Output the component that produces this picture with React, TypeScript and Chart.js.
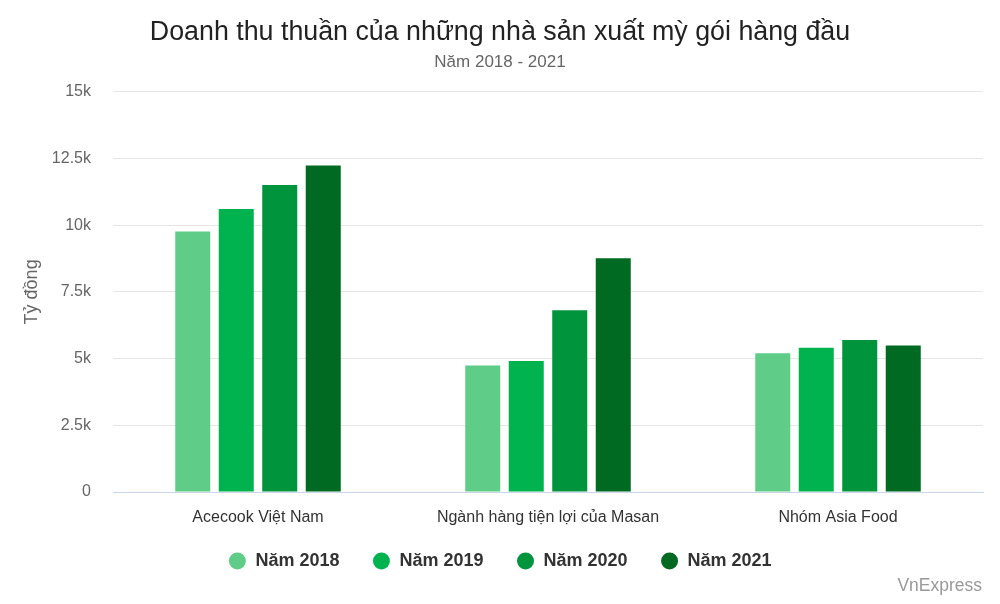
import React, { useEffect, useRef } from "react";
import { Chart, registerables } from "chart.js";

Chart.register(...registerables);

const categories = ["Acecook Việt Nam", "Ngành hàng tiện lợi của Masan", "Nhóm Asia Food"];
const seriesNames = ["Năm 2018", "Năm 2019", "Năm 2020", "Năm 2021"];
const values2018 = [9760, 4740, 5200];
const values2019 = [10610, 4910, 5410];
const values2020 = [11510, 6810, 5700];
const values2021 = [12240, 8760, 5490];
const seriesColors = ["#5fcd87", "#00b34f", "#00943c", "#006a22"];
const yTicks = [0, 2500, 5000, 7500, 10000, 12500, 15000];

const FONT = '"Liberation Sans", Arial, sans-serif';

const creditPlugin = {
  id: "credit",
  afterLayout(chart: any) {
    // let the category labels extend below the compact x-axis box
    const x = chart.scales.x;
    if (x) x.bottom = x.top + 40;
  },
  afterDraw(chart: any) {
    const ctx = chart.ctx;
    ctx.save();
    ctx.font = `17.5px ${FONT}`;
    ctx.fillStyle = "#999999";
    ctx.textAlign = "right";
    ctx.textBaseline = "middle";
    ctx.fillText("VnExpress", 982, 586);
    ctx.restore();
  },
};

export default function App() {
  const canvasRef = useRef<HTMLCanvasElement | null>(null);

  useEffect(() => {
    const seriesValues = [values2018, values2019, values2020, values2021];
    const chart = new Chart(canvasRef.current as HTMLCanvasElement, {
      type: "bar",
      data: {
        labels: categories,
        datasets: seriesNames.map((name, i) => ({
          label: name,
          data: seriesValues[i],
          backgroundColor: seriesColors[i],
          borderWidth: 0,
          categoryPercentage: 0.6,
          barPercentage: 0.805,
        })),
      },
      options: {
        animation: false,
        responsive: true,
        maintainAspectRatio: false,
        layout: { padding: { top: 15, left: 17, right: 17, bottom: 28 } },
        plugins: {
          title: {
            display: true,
            text: "Doanh thu thuần của những nhà sản xuất mỳ gói hàng đầu",
            color: "#222222",
            font: { family: FONT, size: 26.8, weight: "normal" },
            padding: { top: 2, bottom: 1 },
          },
          subtitle: {
            display: true,
            text: "Năm 2018 - 2021",
            color: "#666666",
            font: { family: FONT, size: 17, weight: "normal" },
            padding: { top: 2.4, bottom: 18.8 },
          },
          legend: {
            position: "bottom",
            maxHeight: 57,
            labels: {
              usePointStyle: true,
              pointStyle: "circle",
              boxWidth: 18,
              boxHeight: 12,
              padding: 33,
              color: "#333333",
              font: { family: FONT, size: 18, weight: "bold" },
            },
          },
          tooltip: { enabled: false },
        },
        scales: {
          x: {
            grid: { display: false, drawTicks: false },
            border: { display: true, color: "#ccd6eb", width: 1 },
            ticks: {
              color: "#333333",
              padding: 16,
              font: { family: FONT, size: 16 },
            },
            afterFit(scale: any) {
              scale.height = 27;
            },
          },
          y: {
            min: 0,
            max: 15000,
            afterBuildTicks(scale: any) {
              scale.ticks = yTicks.map((v) => ({ value: v }));
            },
            grid: { color: "#e6e6e6", drawTicks: false },
            border: { display: false },
            ticks: {
              color: "#666666",
              padding: 22,
              font: { family: FONT, size: 16 },
              callback: (v: any) => (Number(v) === 0 ? "0" : `${Number(v) / 1000}k`),
            },
            title: {
              display: true,
              text: "Tỷ đồng",
              color: "#666666",
              font: { family: FONT, size: 18 },
              padding: { top: 4, bottom: 0 },
            },
            afterFit(scale: any) {
              scale.width = 96;
            },
          },
        },
      },
      plugins: [creditPlugin],
    } as any);
    return () => chart.destroy();
  }, []);

  return (
    <div style={{ position: "fixed", left: 0, top: 0, width: 1000, height: 604, background: "#ffffff" }}>
      <canvas ref={canvasRef} />
    </div>
  );
}
